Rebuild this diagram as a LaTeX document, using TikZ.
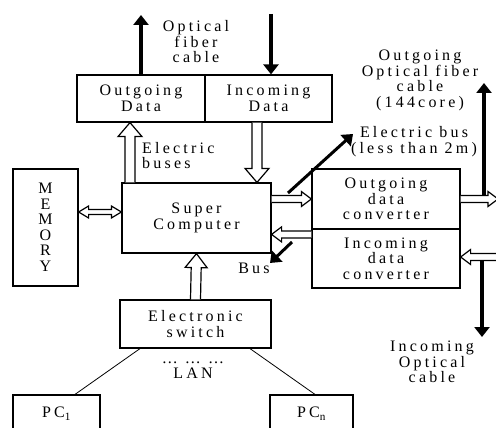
\documentclass[tikz,border=0pt]{standalone}
\usepackage{fontspec}
\setmainfont{Liberation Serif}[LetterSpace=20]
\usetikzlibrary{arrows.meta,calc}

% hollow block arrow: tail, tip, half shaft, half head, head length
\newcommand{\hollowarrow}[5]{%
  \coordinate (hb) at ($(#2)!#5!(#1)$);
  \draw[hollowline] ($(#1)!#3!90:(#2)$) -- ($(hb)!#3!90:(#2)$) -- ($(hb)!#4!90:(#2)$)
    -- (#2) -- ($(hb)!#4!-90:(#2)$) -- ($(hb)!#3!-90:(#2)$) -- ($(#1)!#3!-90:(#2)$);}
% same, with a head at both ends
\newcommand{\hollowboth}[5]{%
  \coordinate (hba) at ($(#1)!#5!(#2)$);
  \coordinate (hbb) at ($(#2)!#5!(#1)$);
  \draw[hollowline] (#1) -- ($(hba)!#4!90:(#2)$) -- ($(hba)!#3!90:(#2)$) -- ($(hbb)!#3!90:(#2)$)
    -- ($(hbb)!#4!90:(#2)$) -- (#2) -- ($(hbb)!#4!-90:(#2)$) -- ($(hbb)!#3!-90:(#2)$)
    -- ($(hba)!#3!-90:(#2)$) -- ($(hba)!#4!-90:(#2)$) -- cycle;}

\begin{document}
\begin{tikzpicture}[x=1pt,y=-1pt]
    \tikzstyle{box}=[draw, line width=1.2pt, align=center, inner sep=1pt, font=\fontsize{16}{15.5}\selectfont]
    \tikzstyle{txt}=[align=center, inner sep=0pt, font=\fontsize{16}{15.5}\selectfont]
    \tikzstyle{cable}=[line width=3.5pt, -{Triangle[length=10pt,width=15pt]}]
    \tikzstyle{hollowline}=[fill=white, line width=1.2pt, line join=miter]
    \tikzstyle{lanline}=[line width=0.8pt]
    \useasboundingbox[fill=white] (0,0) rectangle (496,428);
    % boxes
    \node[box, minimum width=128pt, minimum height=47pt] (outdata) at (141,98.5) {Outgoing\\Data};
    \node[box, minimum width=127pt, minimum height=47pt] (indata) at (268.5,98.5) {Incoming\\Data};
    \node[box, minimum width=149pt, minimum height=70pt] (supercomp) at (196.5,218) {Super\\Computer};
    \node[box, minimum width=65pt, minimum height=117pt] (memory) at (45.5,227.5) {M\\E\\M\\O\\R\\Y};
    \node[box, minimum width=151pt, minimum height=48pt] (switch) at (195.5,324) {Electronic\\switch};
    \node[box, minimum width=148pt, minimum height=60pt] (outconv) at (386,199) {Outgoing\\data\\converter};
    \node[box, minimum width=148pt, minimum height=59pt] (inconv) at (386,258.5) {Incoming\\data\\converter};
    \node[box, minimum width=87pt, minimum height=37pt] (pcone) at (56.5,413.5) {PC\textsubscript{1}};
    \node[box, minimum width=83pt, minimum height=37pt] (pcn) at (311.5,413.5) {PC\textsubscript{n}};
    % labels
    \node[txt] (optlabel) at (196,42) {Optical\\fiber\\cable};
    \node[txt, anchor=west, align=left] (ebuses) at (142,155.5) {Electric\\buses};
    \node[txt] (elbus) at (414,141.5) {Electric bus\\(less than 2m)};
    \node[txt] (outfibre) at (420,80.5) {Outgoing\\Optical fiber\\cable\\(144core)};
    \node[txt] (infibre) at (432,362) {Incoming\\Optical\\cable};
    \node[txt] (buslabel) at (254,268) {Bus};
    \node[txt] (lan) at (193,370) {\dots\ \dots\ \dots\\LAN};
    % free ends
    \coordinate (outtop) at (141,15);
    \coordinate (intop) at (271,14);
    \coordinate (fibreout) at (484,83);
    \coordinate (fibrein) at (482,337);
    \coordinate (rightout) at (498,199);
    \coordinate (rightin) at (500,257);
    \coordinate (busin) at ([yshift=-6pt]inconv.north west);
    \coordinate (ebtail) at (288,193);
    \coordinate (ebtip) at (353,134);
    \coordinate (bustail) at (292,242);
    \coordinate (bustip) at (270,263);
    % optical cables
    \draw[cable] (outdata.north) -- (outtop);
    \draw[cable] (intop) -- (intop |- indata.north);
    \draw[cable] (fibreout |- outconv.east) -- (fibreout);
    \draw[cable] (fibrein |- inconv.east) -- (fibrein);
    % buses
    \hollowarrow{supercomp.north -| 130,0}{outdata.south -| 130,0}{5pt}{12pt}{14pt}
    \hollowarrow{indata.south -| 257,0}{supercomp.north -| 257,0}{5pt}{12pt}{14pt}
    \hollowarrow{switch.north}{supercomp.south}{5pt}{11pt}{14pt}
    \hollowboth{memory.east |- 0,212}{supercomp.west |- 0,212}{2.5pt}{6pt}{10pt}
    \hollowarrow{supercomp.east |- outconv.west}{outconv.west}{3.5pt}{7.5pt}{10pt}
    \hollowarrow{busin}{supercomp.east |- busin}{3.5pt}{7.5pt}{10pt}
    \hollowarrow{outconv.east}{rightout}{3.5pt}{7.5pt}{10pt}
    \hollowarrow{rightin}{inconv.east |- rightin}{3.5pt}{7.5pt}{10pt}
    \draw[cable, line width=3pt] (ebtail) -- (ebtip);
    \draw[cable, line width=3pt] (bustail) -- (bustip);
    % LAN
    \draw[lanline] (switch.south -| 140,0) -- (pcone.north -| 75,0);
    \draw[lanline] (switch.south -| 250,0) -- (pcn.north -| 315,0);
\end{tikzpicture}
\end{document}
